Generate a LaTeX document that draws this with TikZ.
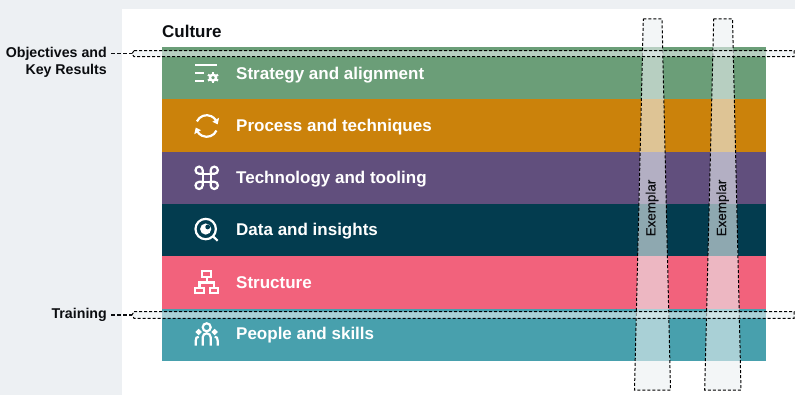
\documentclass[tikz,border=0pt]{standalone}
\usepackage{fontspec}
\setmainfont{Liberation Sans}
\newfontfamily\medfont[FakeBold=0.25]{Liberation Sans}
\usetikzlibrary{arrows.meta, bending, positioning}
\definecolor{pagegrey}{HTML}{EDF0F3}
\definecolor{stratgreen}{HTML}{6B9E78}
\definecolor{procorange}{HTML}{CB820B}
\definecolor{techpurple}{HTML}{614F7D}
\definecolor{datateal}{HTML}{033C4F}
\definecolor{structpink}{HTML}{F2627C}
\definecolor{peopleteal}{HTML}{48A0AD}
\definecolor{overlay}{HTML}{EBF0F2}
\definecolor{inktext}{HTML}{0B0D10}

\begin{document}
\begin{tikzpicture}[
        x=1pt, y=1pt,
        band/.style={rectangle, inner sep=0pt, outer sep=0pt, minimum width=604pt, minimum height=52.33pt},
        bandlabel/.style={anchor=west, inner sep=0pt, yshift=-1.5pt, text=white, font=\fontsize{17}{20}\selectfont\bfseries},
        sidelabel/.style={inner sep=0pt, text=inktext, align=right, font=\fontsize{14.2}{17.5}\selectfont\bfseries},
        exlabel/.style={inner sep=0pt, rotate=90, text=inktext, font=\fontsize{13.4}{16}\selectfont\medfont},
        slot/.style={fill=overlay, fill opacity=0.6, draw=black, line width=1pt, dash pattern=on 3pt off 2pt},
        leader/.style={draw=inktext, line width=1pt, dash pattern=on 3.5pt off 2.5pt},
        icon/.style={draw=white, line width=2.2pt}
    ]
    \useasboundingbox (0,0) rectangle (795,-395);

    % page
    \fill[pagegrey] (0,0) rectangle (795,-395);
    \fill[white] (122,-9) rectangle (795,-395);

    % bands
    \node[band, fill=stratgreen, anchor=north west] (strategy) at (162,-47) {};
    \node[band, fill=procorange, below=0pt of strategy] (process) {};
    \node[band, fill=techpurple, below=0pt of process] (tech) {};
    \node[band, fill=datateal, below=0pt of tech] (data) {};
    \node[band, fill=structpink, below=0pt of data] (structure) {};
    \node[band, fill=peopleteal, below=0pt of structure] (people) {};

    \node[bandlabel, right=74pt of strategy.west] (strategytext) {Strategy and alignment};
    \node[bandlabel, right=74pt of process.west] (processtext) {Process and techniques};
    \node[bandlabel, right=74pt of tech.west] (techtext) {Technology and tooling};
    \node[bandlabel, right=74pt of data.west, yshift=0.8pt] (datatext) {Data and insights};
    \node[bandlabel, right=74pt of structure.west, yshift=1pt] (structuretext) {Structure};
    \node[bandlabel, right=74pt of people.west, yshift=1pt] (peopletext) {People and skills};

    \node[anchor=west, inner sep=0pt, text=inktext, font=\fontsize{17}{20}\selectfont\bfseries] (culture) at (162,-31) {Culture};

    % icons
    \coordinate[right=44.7pt of strategy.west] (iconstrategy);
    \coordinate[right=44.7pt of process.west] (iconprocess);
    \coordinate[right=44.7pt of tech.west] (icontech);
    \coordinate[right=44.7pt of data.west] (icondata);
    \coordinate[right=44.7pt of structure.west] (iconstructure);
    \coordinate[right=44.7pt of people.west] (iconpeople);

    \begin{scope}[shift={(iconstrategy)}]
        \draw[icon] (-11.7,8.2) -- (10.3,8.2);
        \draw[icon] (-11.7,0) -- (-3.2,0);
        \draw[icon] (-11.7,-8) -- (-3.2,-8);
        \draw[icon, line width=2.4pt] (6.3,-4.5) circle (3pt);
        \foreach \a in {30,90,...,330}
            \draw[icon] (6.3,-4.5) ++(\a:3.6pt) -- ++(\a:2.2pt);
    \end{scope}

    \begin{scope}[shift={(iconprocess)}]
        \draw[icon, -{Triangle[length=5pt,width=7.5pt,bend]}] (0,-0.5) ++(-25:10.8pt) arc (-25:-172:10.8pt);
        \draw[icon, -{Triangle[length=5pt,width=7.5pt,bend]}] (0,-0.5) ++(155:10.8pt) arc (155:8:10.8pt);
    \end{scope}

    \begin{scope}[shift={(icontech)}]
        \draw[icon] (-4,-4) rectangle (4,4);
        \foreach \r in {0,90,180,270}
            \draw[icon, rotate=\r] (4,4) -- (4,7.6) arc (180:-90:3.6pt) -- cycle;
    \end{scope}

    \begin{scope}[shift={(icondata)}]
        \draw[icon] (-1,1.1) circle (10.2pt);
        \draw[icon] (6.2,-6.1) -- (11,-10.6);
        \fill[white] (-1,1.1) circle (5.6pt);
        \fill[datateal] (1,3.2) circle (2.4pt);
    \end{scope}

    \begin{scope}[shift={(iconstructure)}]
        \draw[icon] (-4.4,5.5) rectangle (4.6,11.5);
        \draw[icon] (-11.7,-5.2) rectangle (-2.7,-10.8);
        \draw[icon] (3.3,-5.2) rectangle (11.6,-10.8);
        \draw[icon] (0,5.5) -- (0,0);
        \draw[icon] (-7.2,-5.2) -- (-7.2,0) -- (7.5,0) -- (7.5,-5.2);
    \end{scope}

    \begin{scope}[shift={(iconpeople)}]
        \draw[icon] (0,7.5) circle (4pt);
        \draw[icon] (-4,-10.9) -- (-4,-2.5) arc (180:0:4pt) -- (4,-10.9);
        \draw[icon] (-8,2.8) circle (1.7pt);
        \draw[icon] (8,2.8) circle (1.7pt);
        \draw[icon] (-11,-10.9) -- (-11,-6) .. controls (-11,-3) and (-10,-2) .. (-8,-2);
        \draw[icon] (11,-10.9) -- (11,-6) .. controls (11,-3) and (10,-2) .. (8,-2);
    \end{scope}

    % exemplar slots
    \draw[slot] (643.3,-19) -- (662,-19) -- (670.5,-390) -- (634.5,-390) -- cycle;
    \draw[slot] (713.7,-19) -- (732.5,-19) -- (741,-390) -- (704.7,-390) -- cycle;
    \node[exlabel] (exemplarA) at (652,-208) {Exemplar};
    \node[exlabel] (exemplarB) at (722.6,-208) {Exemplar};

    % horizontal slots
    \draw[slot] (134,-50.7) -- (794,-50.7) -- (794,-56.7) -- (134,-56.7) -- (132,-53.7) -- cycle;
    \draw[slot] (134,-311.7) -- (794,-311.7) -- (794,-318.3) -- (134,-318.3) -- (132,-315) -- cycle;
    \coordinate (okrtip) at (132,-53.7);
    \coordinate (trainingtip) at (132,-315);

    % side labels
    \node[sidelabel, anchor=north east] (okr) at (107,-47) {Objectives and\\Key Results};
    \node[sidelabel, anchor=east] (training) at (107,-315) {Training};
    \draw[leader] ([xshift=4pt]okr.east |- okrtip) -- (okrtip);
    \draw[leader] ([xshift=4pt]training.east) -- (trainingtip);

\end{tikzpicture}
\end{document}
